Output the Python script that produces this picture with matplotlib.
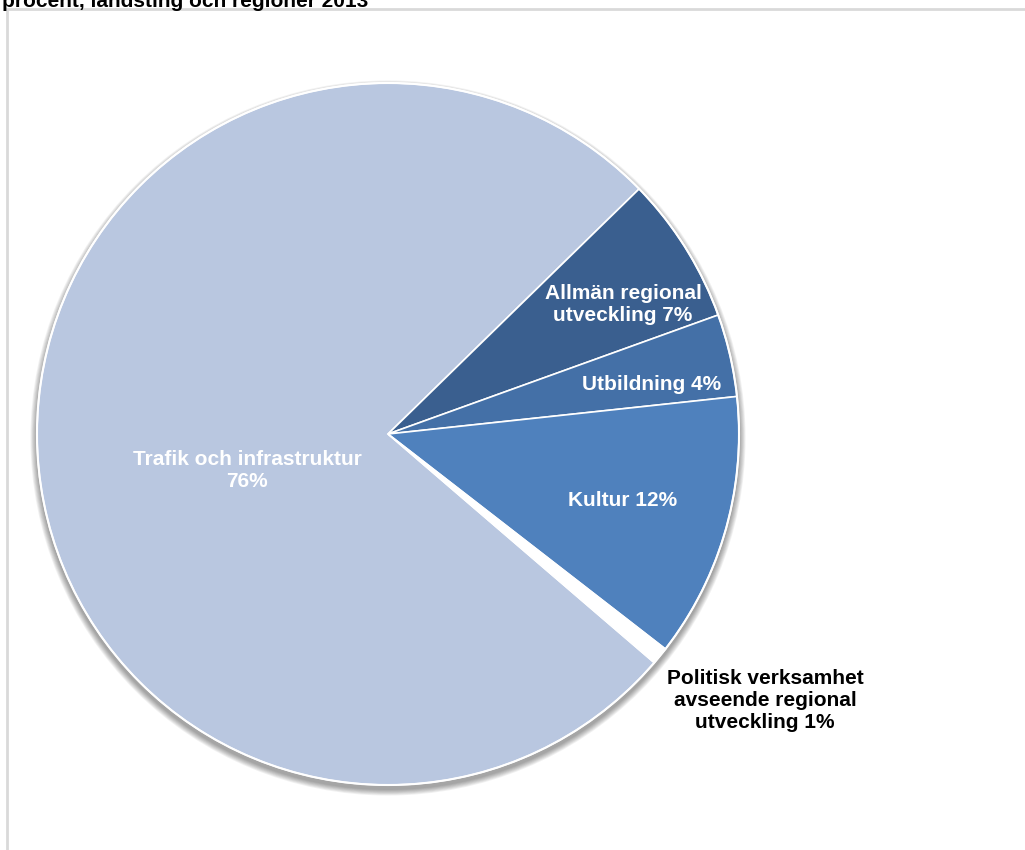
import matplotlib
matplotlib.use("Agg")
import matplotlib.pyplot as plt
from matplotlib.patches import Circle, Rectangle

plt.rcParams['font.family'] = ['Liberation Sans', 'DejaVu Sans']

# andelar per verksamhetsområde, procent
labels = ["Trafik och infrastruktur", "Allmän regional\nutveckling", "Utbildning",
          "Kultur", "Politisk verksamhet\navseende regional\nutveckling"]
shares = [76.4, 6.8, 3.8, 12.2, 0.8]
colors = ["#B9C7E0", "#3A5F8F", "#4470A7", "#4F81BD", "#FFFFFF"]

title = "procent, landsting och regioner 2013"

W, H = 1025, 850
fig = plt.figure(figsize=(W / 100, H / 100), dpi=100)
ax = fig.add_axes([0, 0, 1, 1])
ax.set_xlim(0, W)
ax.set_ylim(0, H)
ax.set_aspect('equal')
ax.axis('off')

# frame around the chart area
ax.add_patch(Rectangle((7, -20), W + 40, H - 9 + 20, fill=False,
                       edgecolor="#d9d9d9", lw=2, zorder=0))

cx, cy, r = 388, H - 434, 351

# soft shadow under the pie
for i in range(8):
    ax.add_patch(Circle((cx, cy - 4), r + 1 + i * 0.8, color="#000000",
                        alpha=0.05, lw=0, zorder=1))

# first wedge ends at 44.3 deg, slices run clockwise
start = 44.3 + 3.6 * shares[0]
wedges, _ = ax.pie(shares, colors=colors, startangle=start, counterclock=False,
                   center=(cx, cy), radius=r,
                   wedgeprops=dict(edgecolor="white", linewidth=1.2))
for w in wedges:
    w.set_zorder(2)
ax.add_patch(Circle((cx, cy), r, fill=False, edgecolor="white", lw=1.5, zorder=3))
ax.set_xlim(0, W)
ax.set_ylim(0, H)

# label positions in pixels (x, y from top) and text colour
label_pos = [(247, 470, "white"), (623, 304, "white"), (652, 384, "white"),
             (623, 500, "white"), (765, 700, "black")]
for lab, v, (x, y, c) in zip(labels, shares, label_pos):
    sep = "\n" if lab == labels[0] else " "
    ax.text(x, H - y, f"{lab}{sep}{v:.0f}%", ha="center", va="center",
            fontsize=15, fontweight="bold", color=c, linespacing=1.2, zorder=5)

ax.text(2, H - 7, title, ha="left", va="baseline", fontsize=15,
        fontweight="bold", color="black")

fig.savefig("out.png", dpi=100)
